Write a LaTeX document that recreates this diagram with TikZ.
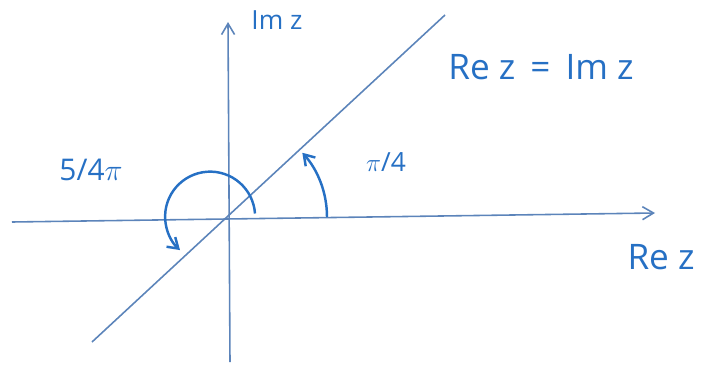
\documentclass[tikz,border=0pt]{standalone}
\usepackage{fontspec}
\setsansfont{Open Sans}
\usetikzlibrary{arrows.meta,positioning}
\definecolor{inkline}{RGB}{92,132,186}
\definecolor{inktext}{RGB}{38,112,196}
\tikzset{axis/.style={draw=inkline,line width=0.9pt,-{Straight Barb[length=2.2mm,width=2.6mm]}},
  trace/.style={draw=inkline,line width=0.9pt},
  turn/.style={draw=inktext,line width=1.4pt,-{Straight Barb[length=2mm,width=2.6mm]}},
  lbl/.style={text=inktext,font=\sffamily\fontsize{20}{22}\selectfont,inner sep=1pt}}
\begin{document}
\begin{tikzpicture}
\useasboundingbox (-4.62,-2.96) rectangle (9.48,4.34);
\coordinate (o) at (0,0);
\coordinate (xl) at (-4.38,-0.10);
\coordinate (xr) at (8.48,0.08);
\coordinate (yb) at (-0.02,-2.9);
\coordinate (yt) at (-0.06,3.9);
\coordinate (dl) at (-2.78,-2.5);
\coordinate (du) at (4.28,4.04);
% axes and the line Re z = Im z
\draw[axis] (xl) -- (xr);
\draw[axis] (yb) -- (yt);
\draw[trace] (dl) -- (du);
% angles
\draw[turn] (1.92,0) arc[start angle=0,end angle=42,radius=1.92];
\draw[turn] (0.48,0.07) arc[start angle=4,end angle=228,radius=0.9];
% labels
\node[lbl,font=\sffamily\fontsize{15}{17}\selectfont] (imz) at (0.92,3.94) {Im z};
\node[lbl] (diag) at (6.2,3.0) {Re z \,=\, Im z};
\node[lbl,font=\sffamily\fontsize{15}{17}\selectfont] (quarter) at (3.1,1.1) {$\pi$/4};
\node[lbl,font=\sffamily\fontsize{17}{19}\selectfont] (fivequarter) at (-2.8,0.95) {5/4$\pi$};
\node[lbl] (rez) at (8.6,-0.8) {Re z};
\end{tikzpicture}
\end{document}
